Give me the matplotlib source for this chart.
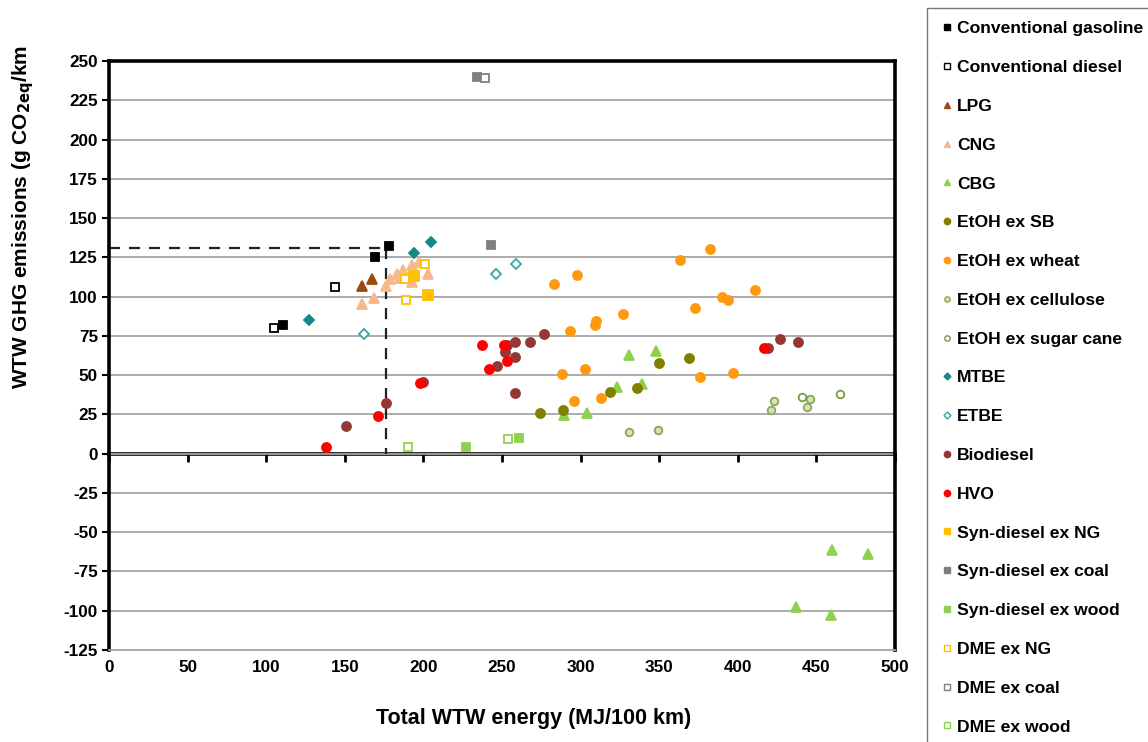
import matplotlib
matplotlib.use("Agg")
import matplotlib.pyplot as plt
from matplotlib.lines import Line2D

plt.rcParams['font.family'] = ['Liberation Sans', 'DejaVu Sans']
plt.rcParams['font.weight'] = 'bold'
plt.rcParams['axes.unicode_minus'] = False

# ---------------- data ----------------
gasoline_x = [111, 169, 178]
gasoline_y = [82, 125, 132]
diesel_x = [105, 144]
diesel_y = [80, 106]
lpg_x = [161, 167]
lpg_y = [107, 111]
cng_x = [161, 168.5, 176, 179, 183, 187, 193, 193, 197, 203, 185]
cng_y = [95, 99, 107, 111, 114.5, 117, 120, 109, 122, 114.5, 112]
cbg_x = [289.5, 304, 323, 339, 331, 348, 460, 483, 437, 459]
cbg_y = [24.5, 26, 42.5, 44.5, 63, 65.5, -61.5, -64, -97.5, -102.5]
etoh_sb_x = [274, 289, 319, 336, 350, 369]
etoh_sb_y = [26, 27.5, 39.5, 41.5, 58, 61]
etoh_wheat_x = [283, 298, 363, 382, 390, 393.5, 373, 327, 310, 309, 293.5,
                411, 288, 303, 296, 313, 376, 397]
etoh_wheat_y = [108, 114, 123, 130, 100, 98, 93, 89, 84.5, 82, 78,
                104.5, 51, 54, 33.5, 35.5, 49, 51.5]
etoh_cell_x = [423, 421, 446, 444, 331, 349.5]
etoh_cell_y = [33.5, 28, 35, 30, 14, 15]
etoh_cane_x = [441, 465]
etoh_cane_y = [36, 38]
mtbe_x = [127, 194, 205]
mtbe_y = [85, 128, 135]
etbe_x = [162, 246, 259]
etbe_y = [76, 114.5, 120.5]
biodiesel_x = [151, 176, 200, 247, 253, 252, 258.5, 267.5, 277, 258.5, 258, 427, 438, 419]
biodiesel_y = [17.5, 32.5, 45.5, 56, 69, 65, 71, 71, 76, 61.5, 38.5, 73, 71, 67]
hvo_x = [138, 171, 198, 237, 242, 251, 253, 416.5]
hvo_y = [4.5, 24, 45, 69, 54, 69, 59, 67]
syn_ng_x = [194, 203]
syn_ng_y = [113, 101]
syn_coal_x = [234, 243]
syn_coal_y = [240, 133]
syn_wood_x = [227, 261]
syn_wood_y = [4.5, 10]
dme_ng_x = [201, 188, 189]
dme_ng_y = [121, 111, 98]
dme_coal_x = [239]
dme_coal_y = [239]
dme_wood_x = [190.5, 254]
dme_wood_y = [4.5, 9.5]

ref_energy = 176.5
ref_ghg = 131

x_ticks = list(range(0, 501, 50))
y_ticks = list(range(-125, 251, 25))

# (label, x, y, marker, face, edge, size)
series = [
    ("Conventional gasoline", gasoline_x, gasoline_y, 's', 'black', 'black', 6),
    ("Conventional diesel", diesel_x, diesel_y, 's', 'white', 'black', 6),
    ("LPG", lpg_x, lpg_y, '^', '#9c4a10', '#9c4a10', 7),
    ("CNG", cng_x, cng_y, '^', '#f7b88c', '#f7b88c', 7),
    ("CBG", cbg_x, cbg_y, '^', '#8fd14f', '#8fd14f', 7),
    ("EtOH ex SB", etoh_sb_x, etoh_sb_y, 'o', '#7f7f00', '#7f7f00', 6.5),
    ("EtOH ex wheat", etoh_wheat_x, etoh_wheat_y, 'o', '#ff9a10', '#ff9a10', 6.5),
    ("EtOH ex cellulose", etoh_cell_x, etoh_cell_y, 'o', '#d5e3b5', '#8aa85a', 5.5),
    ("EtOH ex sugar cane", etoh_cane_x, etoh_cane_y, 'o', 'white', '#7a9a45', 5.5),
    ("MTBE", mtbe_x, mtbe_y, 'D', '#138a8a', '#138a8a', 5),
    ("ETBE", etbe_x, etbe_y, 'D', 'white', '#3aa6a6', 5),
    ("Biodiesel", biodiesel_x, biodiesel_y, 'o', '#953735', '#953735', 6.5),
    ("HVO", hvo_x, hvo_y, 'o', '#ff0000', '#ff0000', 6.5),
    ("Syn-diesel ex NG", syn_ng_x, syn_ng_y, 's', '#ffc000', '#ffc000', 6.5),
    ("Syn-diesel ex coal", syn_coal_x, syn_coal_y, 's', '#7f7f7f', '#7f7f7f', 6),
    ("Syn-diesel ex wood", syn_wood_x, syn_wood_y, 's', '#8fd14f', '#8fd14f', 6),
    ("DME ex NG", dme_ng_x, dme_ng_y, 's', 'white', '#ffc000', 6),
    ("DME ex coal", dme_coal_x, dme_coal_y, 's', 'white', '#7f7f7f', 6),
    ("DME ex wood", dme_wood_x, dme_wood_y, 's', 'white', '#8fd14f', 6),
]

fig = plt.figure(figsize=(11.48, 7.42), dpi=100)
ax = fig.add_axes([109 / 1148, 1 - 650 / 742, 786 / 1148, 589 / 742])

ax.set_xlim(0, 500)
ax.set_ylim(-125, 250)
ax.set_yticks(y_ticks)
ax.set_xticks(x_ticks)
ax.yaxis.grid(True, color='#a6a6a6', linewidth=1.3)
ax.set_axisbelow(True)

for sp in ('left', 'top', 'right'):
    ax.spines[sp].set_linewidth(2.6)
    ax.spines[sp].set_color('black')
ax.spines['bottom'].set_color('#a6a6a6')
ax.spines['bottom'].set_linewidth(1.3)

ax.tick_params(axis='y', direction='out', length=5, width=1.5, labelsize=12.3, pad=3)
ax.tick_params(axis='x', length=0, labelsize=12.3, pad=7)
for lab in ax.get_xticklabels() + ax.get_yticklabels():
    lab.set_fontweight('bold')

# zero line with ticks
sec = ax.secondary_xaxis(125 / 375)
sec.set_xticks(x_ticks)
sec.tick_params(direction='out', length=6, width=2, labelbottom=False)
for sp in sec.spines.values():
    sp.set_linewidth(2.6)
    sp.set_color('black')

# dashed reference lines
ax.plot([0, ref_energy], [ref_ghg, ref_ghg], linestyle=(0, (5, 4)), color='#222222', lw=1.6, zorder=2)
ax.plot([ref_energy, ref_energy], [ref_ghg, 0], linestyle=(0, (5, 4)), color='#222222', lw=1.6, zorder=2)

handles = []
for label, xs, ys, m, fc, ec, ms in series:
    ax.plot(xs, ys, linestyle='none', marker=m, markersize=ms,
            markerfacecolor=fc, markeredgecolor=ec, markeredgewidth=1.3, zorder=3)
    handles.append(Line2D([], [], linestyle='none', marker=m, markersize=ms * 0.7,
                          markerfacecolor=fc, markeredgecolor=ec, markeredgewidth=1.0,
                          label=label))

ax.set_xlabel("Total WTW energy (MJ/100 km)", fontsize=15.5, fontweight='bold')
ax.xaxis.set_label_coords(0.54, -0.098)
ax.set_ylabel(r"WTW GHG emissions (g CO$_{\mathbf{2eq}}$/km", fontsize=15, fontweight='bold')
ax.yaxis.set_label_coords(-0.093, 0.735)

leg = fig.legend(handles=handles, loc='upper left',
                 bbox_to_anchor=(927 / 1148, 1 - 8 / 742), borderaxespad=0,
                 prop={'size': 12.6, 'weight': 'bold'}, frameon=True, fancybox=False,
                 edgecolor='#555555', labelspacing=1.345, handlelength=0.8,
                 handletextpad=0.15, borderpad=0.75)
leg.get_frame().set_linewidth(1.0)

fig.savefig("out.png", dpi=100)
